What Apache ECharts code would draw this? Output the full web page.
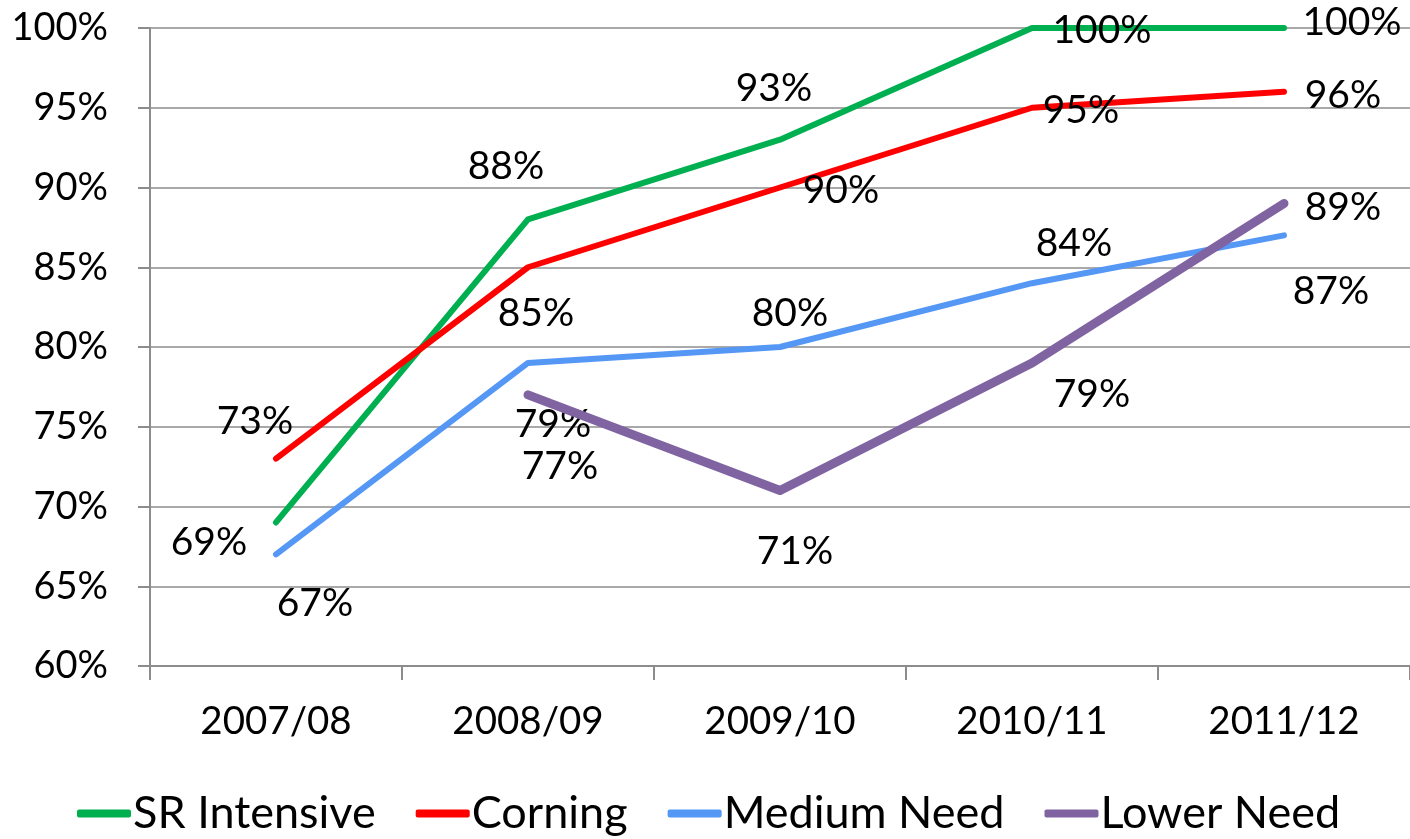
<!DOCTYPE html>
<html><head><meta charset="utf-8">
<script src="https://cdn.jsdelivr.net/npm/echarts@6/dist/echarts.min.js"></script>
<style>html,body{margin:0;padding:0;background:#fff}#c{width:1410px;height:839px}</style>
</head><body><div id="c"></div>
<script>
const categories = ['2007/08','2008/09','2009/10','2010/11','2011/12'];
const srIntensive = [69, 88, 93, 100, 100];
const corning = [73, 85, 90, 95, 96];
const mediumNeed = [67, 79, 80, 84, 87];
const lowerNeed = [null, 77, 71, 79, 89];
const seriesNames = ['SR Intensive','Corning','Medium Need','Lower Need'];
const yTicks = {min: 60, max: 100, step: 5};

// label offsets (layout only)
const labelOffsets = [
  [[-67,20],[-22,-53],[-6,-51],[70,2],[68,-6]],
  [[-21,-37],[8,46],[61,3],[49,3],[59,4]],
  [[39,49],[25,61],[10,-34],[42,-40],[47,56]],
  [[0,0],[32,72],[15,61],[60,31],[59,4]]
];
const colors = ['#00B050','#FF0000','#5597F5','#8064A2'];
const widths = [6,6,6,9];
const FONT = 'Lato';

function mk(i, vals){
  return {
    name: seriesNames[i], type:'line', data: vals.map((v,j)=>({
      value: v,
      label: {offset: labelOffsets[i][j]}
    })),
    symbol:'circle', symbolSize:0.1, showSymbol:true,
    connectNulls:false,
    lineStyle:{color:colors[i], width:widths[i], cap:'round', join:'round'},
    itemStyle:{color:colors[i]},
    label:{show:true, position:'inside', align:'center', verticalAlign:'middle',
      color:'#000', fontFamily:FONT, fontSize:39, formatter: p => p.value==null?'':p.value+'%'},
    emphasis:{disabled:true}, animation:false, z: 2+i
  };
}

const chart = echarts.init(document.getElementById('c'));
chart.setOption({
  animation:false,
  grid:{left:150, right:-3, top:28, bottom:173, containLabel:false},
  legend:{left:72, top:786, itemGap:40, itemWidth:54, itemHeight:8, icon:'roundRect',
    textStyle:{fontFamily:FONT, fontSize:45, color:'#000', padding:[0,0,0,-3]},
    data: seriesNames},
  xAxis:{type:'category', data:categories, boundaryGap:true,
    axisLine:{lineStyle:{color:'#8c8c8c', width:2}},
    axisTick:{show:true, length:14, lineStyle:{color:'#8c8c8c', width:2}},
    axisLabel:{fontFamily:FONT, fontSize:38.5, color:'#000', margin:36}},
  yAxis:{type:'value', min:yTicks.min, max:yTicks.max, interval:yTicks.step,
    axisLine:{show:true, lineStyle:{color:'#8c8c8c', width:2}},
    axisTick:{show:true, length:12, lineStyle:{color:'#8c8c8c', width:2}},
    splitLine:{lineStyle:{color:'#8c8c8c', width:1.5}},
    axisLabel:{fontFamily:FONT, fontSize:38, color:'#000', margin:42, formatter:'{value}%'}},
  series:[mk(0,srIntensive), mk(1,corning), mk(2,mediumNeed), mk(3,lowerNeed)]
});
</script></body></html>
